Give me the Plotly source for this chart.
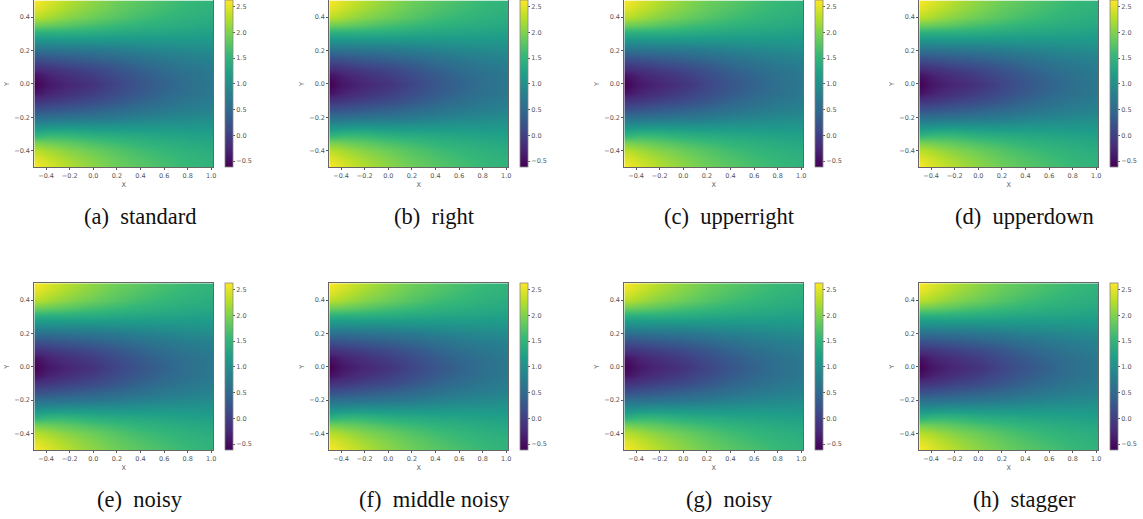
import plotly.graph_objects as go

W, H = 1143, 519
x_values = [-0.5, -0.45, -0.4, -0.3, -0.2, -0.1, 0.0, 0.2, 0.4, 0.6, 0.8, 1.0]
y_values = [-0.5, -0.45, -0.4, -0.35, -0.3, -0.25, -0.2, -0.15, -0.1, -0.05, 0.0,
            0.05, 0.1, 0.15, 0.2, 0.25, 0.3, 0.35, 0.4, 0.45, 0.5]

row_m50 = [2.62, 2.55, 2.48, 2.36, 2.25, 2.15, 2.06, 1.90, 1.78, 1.66, 1.56, 1.48]
row_m45 = [2.50, 2.45, 2.38, 2.27, 2.17, 2.08, 2.00, 1.84, 1.72, 1.61, 1.52, 1.45]
row_m40 = [2.28, 2.25, 2.20, 2.10, 2.02, 1.95, 1.88, 1.74, 1.62, 1.53, 1.45, 1.39]
row_m35 = [1.95, 1.93, 1.90, 1.85, 1.80, 1.74, 1.68, 1.58, 1.49, 1.42, 1.36, 1.31]
row_m30 = [1.42, 1.46, 1.50, 1.52, 1.50, 1.45, 1.40, 1.35, 1.31, 1.27, 1.24, 1.21]
row_m25 = [0.98, 0.98, 1.00, 1.03, 1.04, 1.04, 1.03, 1.03, 1.05, 1.06, 1.07, 1.08]
row_m20 = [0.58, 0.58, 0.58, 0.60, 0.62, 0.64, 0.66, 0.72, 0.80, 0.86, 0.91, 0.95]
row_m15 = [0.20, 0.21, 0.23, 0.27, 0.31, 0.35, 0.39, 0.48, 0.59, 0.69, 0.77, 0.83]
row_m10 = [-0.15, -0.13, -0.10, -0.04, 0.02, 0.07, 0.12, 0.26, 0.41, 0.55, 0.66, 0.74]
row_m05 = [-0.48, -0.41, -0.33, -0.24, -0.17, -0.10, -0.03, 0.14, 0.30, 0.45, 0.58, 0.69]
row_p00 = [-0.62, -0.52, -0.43, -0.34, -0.27, -0.20, -0.13, 0.07, 0.25, 0.41, 0.56, 0.68]
row_p05 = [-0.48, -0.41, -0.33, -0.24, -0.17, -0.10, -0.03, 0.14, 0.30, 0.45, 0.58, 0.69]
row_p10 = [-0.15, -0.13, -0.10, -0.04, 0.02, 0.07, 0.12, 0.26, 0.41, 0.55, 0.66, 0.74]
row_p15 = [0.20, 0.21, 0.23, 0.27, 0.31, 0.35, 0.39, 0.48, 0.59, 0.69, 0.77, 0.83]
row_p20 = [0.58, 0.58, 0.58, 0.60, 0.62, 0.64, 0.66, 0.72, 0.80, 0.86, 0.91, 0.95]
row_p25 = [0.98, 0.97, 0.97, 0.98, 0.98, 0.98, 0.99, 1.01, 1.04, 1.05, 1.07, 1.08]
row_p30 = [1.38, 1.38, 1.38, 1.38, 1.37, 1.36, 1.35, 1.31, 1.28, 1.26, 1.24, 1.21]
row_p35 = [1.88, 1.87, 1.85, 1.80, 1.75, 1.69, 1.64, 1.55, 1.47, 1.41, 1.36, 1.32]
row_p40 = [2.28, 2.25, 2.20, 2.10, 2.02, 1.95, 1.88, 1.74, 1.62, 1.53, 1.45, 1.39]
row_p45 = [2.50, 2.45, 2.38, 2.27, 2.17, 2.08, 2.00, 1.84, 1.72, 1.61, 1.52, 1.45]
row_p50 = [2.62, 2.55, 2.48, 2.36, 2.25, 2.15, 2.06, 1.90, 1.78, 1.66, 1.56, 1.48]

z_rows = [row_m50, row_m45, row_m40, row_m35, row_m30, row_m25, row_m20, row_m15, row_m10,
          row_m05, row_p00, row_p05, row_p10, row_p15, row_p20, row_p25, row_p30, row_p35,
          row_p40, row_p45, row_p50]

captions = ["(a)  standard", "(b)  right", "(c)  upperright", "(d)  upperdown",
            "(e)  noisy", "(f)  middle noisy", "(g)  noisy", "(h)  stagger"]
x_ticks = [-0.4, -0.2, 0.0, 0.2, 0.4, 0.6, 0.8, 1.0]
y_ticks = [-0.4, -0.2, 0.0, 0.2, 0.4]
cb_ticks = [-0.5, 0.0, 0.5, 1.0, 1.5, 2.0, 2.5]

lefts = [34.3, 329.3, 624.3, 919.3]
tops = [0.4, 283.3]
pw, ph = 179, 167
tick_color = "#555555"
tick_font = dict(family="DejaVu Sans", size=6.5, color=tick_color)

fig = go.Figure()
layout = {}
annotations = []
for i, cap in enumerate(captions):
    c, r = i % 4, i // 4
    l, t = lefts[c], tops[r]
    n = "" if i == 0 else str(i + 1)
    fig.add_trace(go.Heatmap(
        x=x_values, y=y_values, z=z_rows, zmin=-0.62, zmax=2.62,
        colorscale="Viridis", zsmooth="best", xaxis="x" + n, yaxis="y" + n,
        colorbar=dict(
            x=(l + 190.7) / W, xanchor="left", xpad=0, ypad=0,
            y=1 - (t + ph / 2) / H, yanchor="middle",
            lenmode="pixels", len=ph, thicknessmode="pixels", thickness=8,
            tickvals=cb_ticks, ticktext=["\u22120.5", "0.0", "0.5", "1.0", "1.5", "2.0", "2.5"],
            tickfont=tick_font, ticks="outside", ticklen=2, tickcolor=tick_color, tickwidth=0.7,
            outlinecolor="#888888", outlinewidth=0.8,
        ),
    ))
    axis = dict(showline=True, mirror=True, linecolor="#666666", linewidth=1, showgrid=False,
                zeroline=False, ticks="outside", ticklen=2, tickwidth=0.7, tickcolor=tick_color,
                tickfont=tick_font, title_font=dict(family="DejaVu Sans", size=6.5, color=tick_color))
    layout["xaxis" + n] = dict(axis, domain=[l / W, (l + pw) / W], range=[-0.5, 1.017],
                               anchor="y" + n, tickvals=x_ticks, tickformat=".1f",
                               title=dict(text="X", standoff=3))
    layout["yaxis" + n] = dict(axis, domain=[1 - (t + ph) / H, 1 - t / H], range=[-0.5, 0.5],
                               anchor="x" + n, tickvals=y_ticks, tickformat=".1f",
                               title=dict(text="Y", standoff=3))
    annotations.append(dict(text=cap, x=(l + 105.3) / W, y=1 - (t + 216) / H, xref="paper", yref="paper",
                            xanchor="center", yanchor="middle", showarrow=False,
                            font=dict(family="Liberation Serif", size=22.5, color="#111111")))

fig.update_layout(width=W, height=H, margin=dict(l=0, r=0, t=0, b=0, autoexpand=False),
                  paper_bgcolor="white", plot_bgcolor="white", showlegend=False,
                  annotations=annotations, **layout)
fig.write_html("out.html", config={"displayModeBar": False},
               post_script="document.body.style.margin='0';")
